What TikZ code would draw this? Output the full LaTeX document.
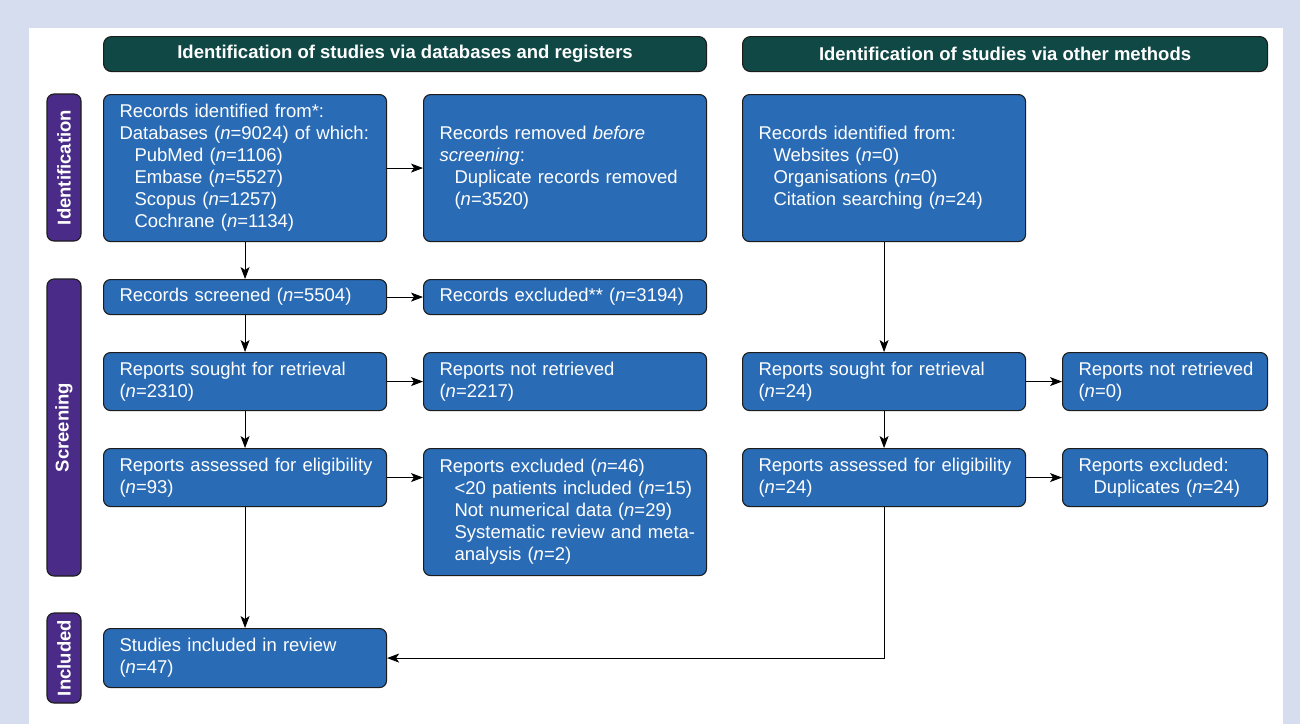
\documentclass[tikz,border=0pt]{standalone}
\usepackage{fontspec}
\setmainfont{Liberation Sans}
\usepackage{tikz}
\usetikzlibrary{arrows.meta, positioning}

\definecolor{framebg}{HTML}{D5DDEE}
\definecolor{boxblue}{HTML}{2A6BB5}
\definecolor{headteal}{HTML}{0F4844}
\definecolor{phasepurple}{HTML}{4A2C88}
\definecolor{edgedark}{HTML}{1C1C1C}

\tikzset{
  box/.style={draw=edgedark, line width=1.1pt, fill=boxblue, rounded corners=7pt,
    text=white, align=left, text width=267pt, inner xsep=8pt, inner ysep=0pt,
    execute at begin node={\leftskip=8pt\hyphenpenalty=10000},
    font=\fontsize{18.5}{22}\selectfont, anchor=north west},
  smallbox/.style={box, text width=189pt},
  header/.style={draw=edgedark, line width=1.1pt, fill=headteal, rounded corners=8pt,
    text=white, minimum height=35pt, inner sep=0pt,
    font=\bfseries\fontsize{18.5}{22}\selectfont, anchor=north west},
  phase/.style={draw=edgedark, line width=1.1pt, fill=phasepurple, rounded corners=7pt,
    text=white, rotate=90, minimum height=34pt, inner sep=0pt,
    font=\bfseries\fontsize{18.5}{22}\selectfont},
  flow/.style={-{Stealth[length=12pt,width=9pt,inset=3pt]}, line width=0.9pt, black}
}

\newcommand{\ind}{\hspace*{15pt}}

\begin{document}
\begin{tikzpicture}[x=1pt,y=-1pt]
  \fill[framebg] (0,0) rectangle (1300,724);
  \fill[white] (29,28) rectangle (1283,724);
  \useasboundingbox (0,0) rectangle (1300,724);

  \node[header, minimum width=603pt] (hdb) at (103,36) {Identification of studies via databases and registers};
  \node[header, minimum width=525pt] (hoth) at (742,36) {Identification of studies via other methods};

  \node[phase, minimum width=147pt] (pid) at (64,167.5) {Identification};
  \node[phase, minimum width=297pt] (pscr) at (64,427.5) {Screening};
  \node[phase, minimum width=90pt] (pinc) at (64,658) {Included};

  \node[box, minimum height=147pt] (recid) at (103,94) {Records identified from*:\\
    Databases (\textit{n}=9024) of which:\\
    \ind PubMed (\textit{n}=1106)\\
    \ind Embase (\textit{n}=5527)\\
    \ind Scopus (\textit{n}=1257)\\
    \ind Cochrane (\textit{n}=1134)};
  \node[box, minimum height=147pt] (recrem) at (423,94) {Records removed \textit{before}\\
    \textit{screening}:\\
    \ind Duplicate records removed\\
    \ind (\textit{n}=3520)};
  \node[box, minimum height=147pt] (othid) at (742,94) {Records identified from:\\
    \ind Websites (\textit{n}=0)\\
    \ind Organisations (\textit{n}=0)\\
    \ind Citation searching (\textit{n}=24)};

  \node[box, minimum height=35pt] (screen) at (103,279) {Records screened (\textit{n}=5504)};
  \node[box, minimum height=35pt] (recexc) at (423,279) {Records excluded** (\textit{n}=3194)};

  \node[box, minimum height=58pt] (sought) at (103,352) {Reports sought for retrieval\\(\textit{n}=2310)};
  \node[box, minimum height=58pt] (notret) at (423,352) {Reports not retrieved\\(\textit{n}=2217)};
  \node[box, minimum height=58pt] (othsought) at (742,352) {Reports sought for retrieval\\(\textit{n}=24)};
  \node[smallbox, minimum height=58pt] (othnotret) at (1062,352) {Reports not retrieved\\(\textit{n}=0)};

  \node[box, minimum height=58pt] (assess) at (103,448) {Reports assessed for eligibility\\(\textit{n}=93)};
  \node[box, minimum height=127pt] (repexc) at (423,448) {Reports excluded (\textit{n}=46)\\
    \ind <20 patients included (\textit{n}=15)\\
    \ind Not numerical data (\textit{n}=29)\\
    \ind Systematic review and meta-\\
    \ind analysis (\textit{n}=2)};
  \node[box, minimum height=58pt] (othassess) at (742,448) {Reports assessed for eligibility\\(\textit{n}=24)};
  \node[smallbox, minimum height=58pt] (othexc) at (1062,448) {Reports excluded:\\\ind Duplicates (\textit{n}=24)};

  \node[box, minimum height=59pt] (incl) at (103,628) {Studies included in review\\(\textit{n}=47)};

  \draw[flow] (recid) -- (recrem);
  \draw[flow] (recid) -- (screen);
  \draw[flow] (screen) -- (recexc);
  \draw[flow] (screen) -- (sought);
  \draw[flow] (sought) -- (notret);
  \draw[flow] (sought) -- (assess);
  \draw[flow] (assess.east) -- (assess.east -| repexc.west);
  \draw[flow] (assess) -- (incl);
  \draw[flow] (othid) -- (othsought);
  \draw[flow] (othsought) -- (othnotret);
  \draw[flow] (othsought) -- (othassess);
  \draw[flow] (othassess) -- (othexc);
  \draw[flow] (othassess.south) |- (incl.east);
\end{tikzpicture}
\end{document}
